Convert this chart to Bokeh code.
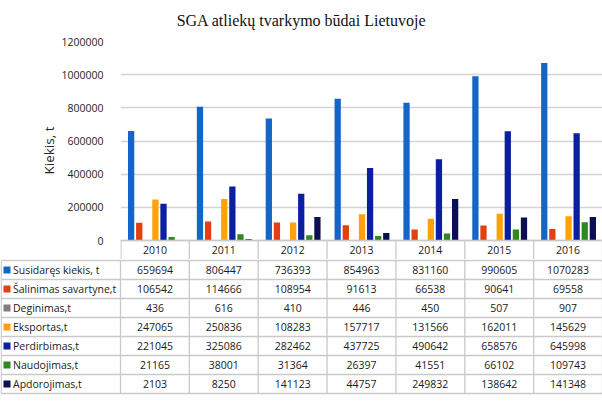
from bokeh.plotting import figure
from bokeh.models import Range1d, NumeralTickFormatter, FixedTicker, ColumnDataSource
from bokeh.transform import dodge
from bokeh.layouts import column
from bokeh.core.properties import value
from bokeh.embed import file_html
from bokeh.resources import INLINE

# ---------------- data ----------------
title_text = "SGA atliekų tvarkymo būdai Lietuvoje"
y_label = "Kiekis, t"
years = ["2010", "2011", "2012", "2013", "2014", "2015", "2016"]
series_names = ["Susidaręs kiekis, t", "Šalinimas savartyne,t", "Deginimas,t",
                "Eksportas,t", "Perdirbimas,t", "Naudojimas,t", "Apdorojimas,t"]
susidares = [659694, 806447, 736393, 854963, 831160, 990605, 1070283]
salinimas = [106542, 114666, 108954, 91613, 66538, 90641, 69558]
deginimas = [436, 616, 410, 446, 450, 507, 907]
eksportas = [247065, 250836, 108283, 157717, 131566, 162011, 145629]
perdirbimas = [221045, 325086, 282462, 437725, 490642, 658576, 645998]
naudojimas = [21165, 38001, 31364, 26397, 41551, 66102, 109743]
apdorojimas = [2103, 8250, 141123, 44757, 249832, 138642, 141348]
y_ticks = [0, 200000, 400000, 600000, 800000, 1000000, 1200000]

series_values = [susidares, salinimas, deginimas, eksportas, perdirbimas, naudojimas, apdorojimas]
colors = ["#1565C8", "#E2400E", "#7F7F7F", "#FFA20A", "#0B1FA0", "#2E8A1C", "#0C1050"]

# ---------------- layout constants ----------------
FONT = "Open Sans"
TXT = "#1a1a1a"
GRID_COL = "#C9C9C9"
W = 602
LEFT = 120                       # width of the label column
COL_W = (W - LEFT) / len(years)  # width of one year column
TITLE_H = 30
PLOT_TOP = 41                    # pixel of the top gridline
ZERO_Y = 240                     # pixel of the zero line
ROW_H = 19
HEADER_H = 19
MAIN_H = ZERO_Y + HEADER_H - TITLE_H
TABLE_H = 401 - TITLE_H - MAIN_H

# ---------------- title ----------------
tf = figure(width=W, height=TITLE_H, x_range=Range1d(0, W), y_range=Range1d(TITLE_H, 0),
            output_backend="svg", toolbar_location=None, min_border=0,
            x_axis_location=None, y_axis_location=None, frame_align=False)
tf.outline_line_color = None
tf.grid.grid_line_color = None
tf.text(x=[W / 2], y=[20], text=[title_text], text_align="center", text_baseline="alphabetic",
        text_font=value("Liberation Serif"), text_font_size="16px", text_color="#111111")

# ---------------- bar chart (with header row of the table) ----------------
units_per_px = (y_ticks[-1] - y_ticks[0]) / (ZERO_Y - PLOT_TOP)
y_min = -HEADER_H * units_per_px
p = figure(x_range=years, y_range=Range1d(y_min, y_ticks[-1]), width=W, height=MAIN_H,
           output_backend="svg", toolbar_location=None, x_axis_location=None,
           min_border_left=LEFT, min_border_right=0,
           min_border_top=PLOT_TOP - TITLE_H, min_border_bottom=0, frame_align=False)
p.outline_line_color = None
p.xgrid.grid_line_color = None
p.ygrid.grid_line_color = "#D4D4D4"
p.ygrid.grid_line_width = 1.3
p.yaxis.ticker = FixedTicker(ticks=y_ticks)
p.yaxis.formatter = NumeralTickFormatter(format="0")
p.yaxis.axis_line_color = None
p.yaxis.major_tick_line_color = None
p.yaxis.minor_tick_line_color = None
p.yaxis.major_label_standoff = 11
p.yaxis.major_label_text_font = FONT
p.yaxis.major_label_text_font_size = "10.5px"
p.yaxis.major_label_text_color = "#262626"
p.yaxis.axis_label = y_label
p.yaxis.axis_label_text_font = FONT
p.yaxis.axis_label_text_font_size = "13.5px"
p.yaxis.axis_label_text_font_style = "normal"
p.yaxis.axis_label_text_color = "#262626"
p.yaxis.axis_label_standoff = 0

data = {"year": years}
for i, vals in enumerate(series_values):
    data["s%d" % i] = vals
src = ColumnDataSource(data)

step = 0.1176
bar_w = 0.091
for i in range(len(series_values)):
    off = (i - 3) * step + 0.007
    p.vbar(x=dodge("year", off, range=p.x_range), top="s%d" % i, width=bar_w,
           source=src, color=colors[i], line_color=None)

# header row: separators and year labels
nyear = len(years)
sep_x = [0.006] + list(range(1, nyear + 1))
p.segment(x0=sep_x, y0=[0] * len(sep_x), x1=sep_x, y1=[y_min] * len(sep_x),
          line_color=GRID_COL, line_width=1.3)
p.segment(x0=[0], y0=[0], x1=[nyear], y1=[0], line_color=GRID_COL, line_width=1.3)
p.text(x=years, y=[y_min / 2] * nyear, text=years, text_align="center",
       text_baseline="middle", text_font=value(FONT), text_font_size="10.5px", text_color=TXT)

# ---------------- data table ----------------
nrows = len(series_names)
t = figure(width=W, height=TABLE_H,
           x_range=Range1d(-LEFT / COL_W, (W - LEFT) / COL_W),
           y_range=Range1d((TABLE_H - 1) / ROW_H, -1 / ROW_H),
           output_backend="svg", toolbar_location=None, min_border=0,
           x_axis_location=None, y_axis_location=None, frame_align=False)
t.outline_line_color = None
t.grid.grid_line_color = None

x_left = -LEFT / COL_W + 0.01
x_right = nyear + 0.2
hy = list(range(0, nrows + 1))
t.segment(x0=[x_left] * len(hy), y0=hy, x1=[x_right] * len(hy), y1=hy,
          line_color=GRID_COL, line_width=1.3)
vx = [x_left] + list(range(0, nyear + 1))
t.segment(x0=vx, y0=[0] * len(vx), x1=vx, y1=[nrows] * len(vx),
          line_color=GRID_COL, line_width=1.3)

tx, ty, tt = [], [], []
for r, vals in enumerate(series_values):
    for c, v in enumerate(vals):
        tx.append(c + 0.5)
        ty.append(r + 0.5)
        tt.append(str(v))
t.text(x=tx, y=ty, text=tt, text_align="center", text_baseline="middle",
       text_font=value(FONT), text_font_size="10.5px", text_color=TXT)

ly = [r + 0.5 for r in range(nrows)]
t.scatter(x=[(6.5 - LEFT) / COL_W] * nrows, y=ly, marker="square", size=7,
          color=colors, line_color=None)
t.text(x=[(12.5 - LEFT) / COL_W] * nrows, y=ly, text=series_names, text_align="left",
       text_baseline="middle", text_font=value(FONT), text_font_size="10.5px",
       text_color=TXT)

layout = column(tf, p, t, spacing=0)
open("out.html", "w").write(file_html(layout, INLINE))
